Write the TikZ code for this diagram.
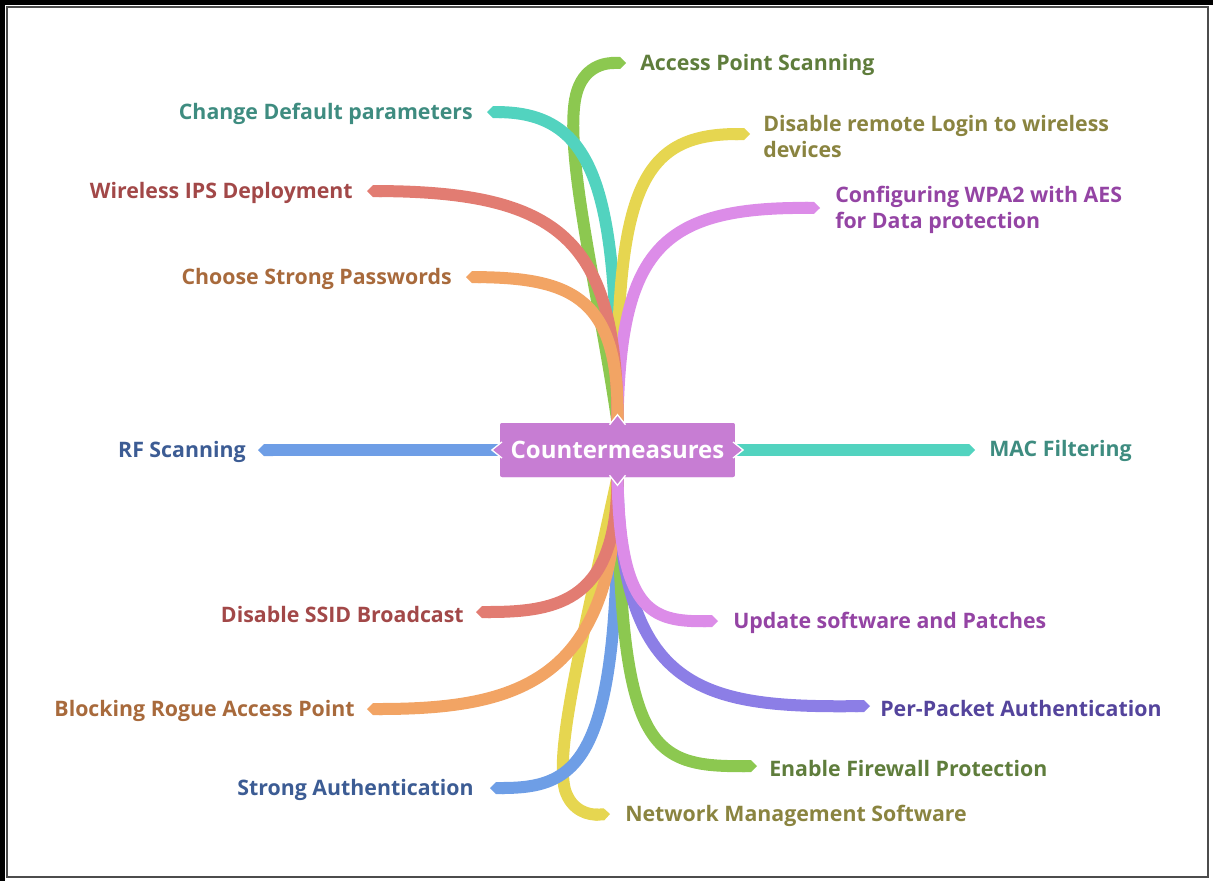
\documentclass[tikz,border=0pt]{standalone}
\usepackage{fontspec}
\setmainfont{Open Sans}
\usetikzlibrary{arrows.meta,positioning,calc}
\definecolor{cmpurple}{HTML}{C77DD3}
\definecolor{brgreen}{HTML}{8CC850}
\definecolor{brteal}{HTML}{52D3BF}
\definecolor{bryellow}{HTML}{E6D650}
\definecolor{brviolet}{HTML}{DC8CE8}
\definecolor{brred}{HTML}{E27C72}
\definecolor{brorange}{HTML}{F2A464}
\definecolor{brblue}{HTML}{6E9EE6}
\definecolor{brindigo}{HTML}{8C7EE6}
\definecolor{txgreen}{HTML}{5F7D3C}
\definecolor{txteal}{HTML}{3E8C80}
\definecolor{txyellow}{HTML}{8A8440}
\definecolor{txviolet}{HTML}{9444A4}
\definecolor{txred}{HTML}{A24848}
\definecolor{txorange}{HTML}{A86A3C}
\definecolor{txblue}{HTML}{3C5C94}
\definecolor{txindigo}{HTML}{54449C}

\begin{document}
\begin{tikzpicture}[x=0.75pt,y=-0.75pt,
    branch/.style={line width=9pt,-{Triangle Cap[]}},
    leaf/.style={inner sep=0pt,font=\fontsize{16}{19.5}\selectfont\bfseries,align=left},
    notch/.style={fill=cmpurple,draw=white,line width=1pt}]
  \useasboundingbox (0,0) rectangle (1213,881);

  % frame
  \fill[black] (0,0) rectangle (1213,5);
  \fill[black] (0,0) rectangle (5,881);
  \draw[line width=2pt,black!70] (7,7) rectangle (1208,877);

  % centre
  \node[fill=cmpurple,rounded corners=1.5pt,minimum width=176pt,minimum height=40.5pt,
        text=white,font=\fontsize{18}{20}\selectfont\bfseries] (cm) at (617.5,450) {Countermeasures};

  % upper leaves
  \node[leaf,anchor=west,text=txgreen] (aps) at (640,65) {Access Point Scanning};
  \node[leaf,anchor=east,text=txteal] (cdp) at (473,114) {Change Default parameters};
  \node[leaf,anchor=west,text=txyellow] (drl) at (763,136) {Disable remote Login to wireless\\devices};
  \node[leaf,anchor=west,text=txviolet] (wpa) at (835,210) {Configuring WPA2 with AES\\for Data protection};
  \node[leaf,anchor=east,text=txred] (ips) at (353,193) {Wireless IPS Deployment};
  \node[leaf,anchor=east,text=txorange] (csp) at (452,279) {Choose Strong Passwords};

  % side leaves
  \node[leaf,anchor=east,text=txblue] (rfs) at (246,452) {RF Scanning};
  \node[leaf,anchor=west,text=txteal] (mac) at (989,451) {MAC Filtering};

  % lower leaves
  \node[leaf,anchor=east,text=txred] (ssid) at (464,614) {Disable SSID Broadcast};
  \node[leaf,anchor=west,text=txviolet] (usp) at (733,623) {Update software and Patches};
  \node[leaf,anchor=east,text=txorange] (brap) at (355,711) {Blocking Rogue Access Point};
  \node[leaf,anchor=west,text=txindigo] (ppa) at (880,708) {Per-Packet Authentication};
  \node[leaf,anchor=west,text=txgreen] (efp) at (769,768) {Enable Firewall Protection};
  \node[leaf,anchor=east,text=txblue] (sta) at (474,790) {Strong Authentication};
  \node[leaf,anchor=west,text=txyellow] (nms) at (625,816) {Network Management Software};

  % upper branches
  \draw[branch,brgreen] (cm.north) .. controls (600,300) and (565,160) .. (575,100)
        .. controls (580,70) and (600,63) .. ($(aps.west)+(-14,-2)$);
  \draw[branch,brteal] (cm.north) .. controls (617,200) and (600,113) .. ($(cdp.east)+(14,-2)$);
  \draw[branch,bryellow] (cm.north) .. controls (615,190) and (640,134) .. ($(drl.west)+(-13,-2)$);
  \draw[branch,brviolet] (cm.north) .. controls (620,250) and (660,207) .. ($(wpa.west)+(-15,-2)$);
  \draw[branch,brred] (cm.north) .. controls (617,240) and (560,192) .. ($(ips.east)+(14,-2)$);
  \draw[branch,brorange] (cm.north) .. controls (620,300) and (575,278) .. ($(csp.east)+(14,-2)$);

  % side branches
  \draw[branch,brblue] (cm.west) -- ($(rfs.east)+(12,-2)$);
  \draw[branch,brteal] (cm.east) -- ($(mac.west)+(-14,-1)$);

  % lower branches
  \draw[branch,bryellow] (cm.south) .. controls (580,650) and (555,750) .. (565,790)
        .. controls (572,812) and (590,815) .. ($(nms.west)+(-15,-2)$);
  \draw[branch,brblue] (cm.south) .. controls (620,760) and (580,788) .. ($(sta.east)+(16,-2)$);
  \draw[branch,brgreen] (cm.south) .. controls (620,750) and (650,767) .. ($(efp.west)+(-12,-2)$);
  \draw[branch,brindigo] (cm.south) .. controls (620,690) and (700,708) .. ($(ppa.west)+(-10,-2)$);
  \draw[branch,brorange] (cm.south) .. controls (615,680) and (520,709) .. ($(brap.east)+(12,-2)$);
  \draw[branch,brred] (cm.south) .. controls (617,600) and (560,612) .. ($(ssid.east)+(12,-2)$);
  \draw[branch,brviolet] (cm.south) .. controls (620,610) and (650,622) .. ($(usp.west)+(-15,-2)$);

  % redraw centre over the stems
  \node[fill=cmpurple,rounded corners=1.5pt,minimum width=176pt,minimum height=40.5pt,
        text=white,font=\fontsize{18}{20}\selectfont\bfseries] at (cm) {Countermeasures};
  \draw[notch] ($(cm.north)+(-8,2)$) -- ($(cm.north)+(0,-8)$) -- ($(cm.north)+(8,2)$);
  \draw[notch] ($(cm.south)+(-8,-2)$) -- ($(cm.south)+(0,8)$) -- ($(cm.south)+(8,-2)$);
  \draw[notch] ($(cm.west)+(2,-8)$) -- ($(cm.west)+(-8,0)$) -- ($(cm.west)+(2,8)$);
  \draw[notch] ($(cm.east)+(-2,-8)$) -- ($(cm.east)+(8,0)$) -- ($(cm.east)+(-2,8)$);
\end{tikzpicture}
\end{document}
